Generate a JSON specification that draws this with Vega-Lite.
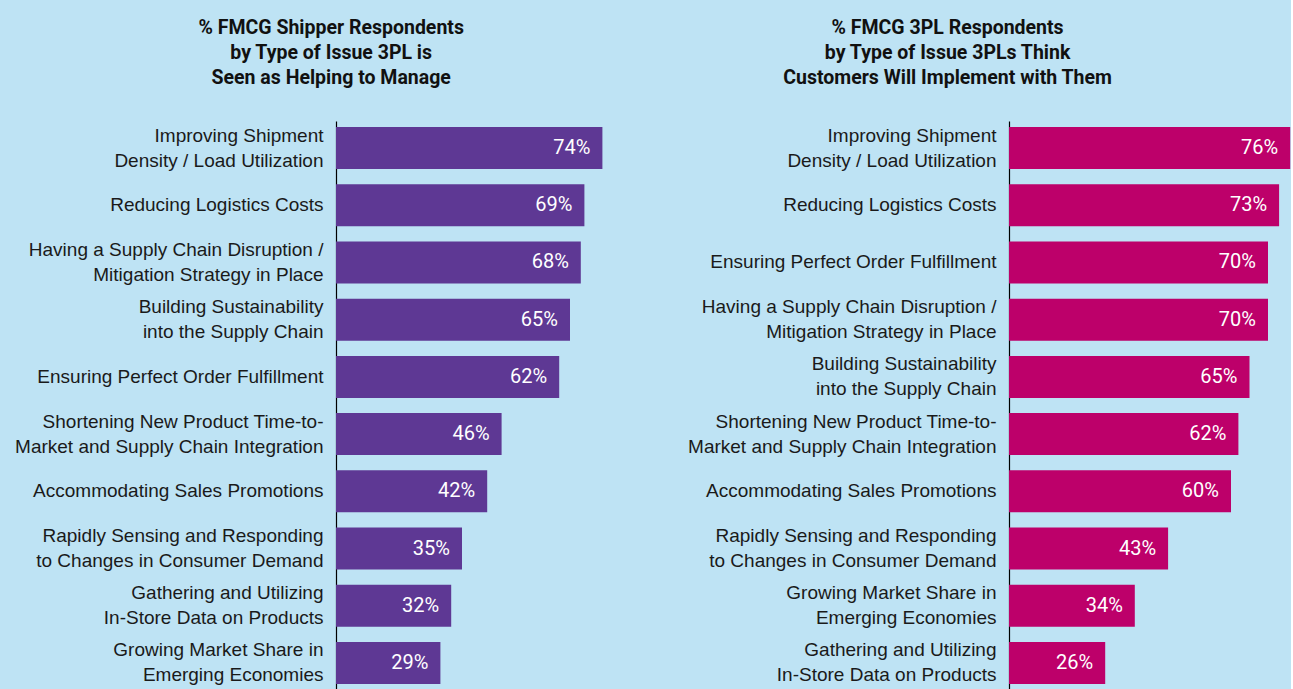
{
  "$schema": "https://vega.github.io/schema/vega-lite/v6.json",
  "background": "#bee3f4",
  "padding": {"left": 0, "top": 17, "right": 0, "bottom": 0},
  "spacing": 70,
  "datasets": {
    "shipper": [
      {"issue": "Improving Shipment|Density / Load Utilization", "pct": 0.74, "rank": 1},
      {"issue": "Reducing Logistics Costs", "pct": 0.69, "rank": 2},
      {"issue": "Having a Supply Chain Disruption /|Mitigation Strategy in Place", "pct": 0.68, "rank": 3},
      {"issue": "Building Sustainability|into the Supply Chain", "pct": 0.65, "rank": 4},
      {"issue": "Ensuring Perfect Order Fulfillment", "pct": 0.62, "rank": 5},
      {"issue": "Shortening New Product Time-to-|Market and Supply Chain Integration", "pct": 0.46, "rank": 6},
      {"issue": "Accommodating Sales Promotions", "pct": 0.42, "rank": 7},
      {"issue": "Rapidly Sensing and Responding|to Changes in Consumer Demand", "pct": 0.35, "rank": 8},
      {"issue": "Gathering and Utilizing|In-Store Data on Products", "pct": 0.32, "rank": 9},
      {"issue": "Growing Market Share in|Emerging Economies", "pct": 0.29, "rank": 10}
    ],
    "threepl": [
      {"issue": "Improving Shipment|Density / Load Utilization", "pct": 0.76, "rank": 1},
      {"issue": "Reducing Logistics Costs", "pct": 0.73, "rank": 2},
      {"issue": "Ensuring Perfect Order Fulfillment", "pct": 0.70, "rank": 3},
      {"issue": "Having a Supply Chain Disruption /|Mitigation Strategy in Place", "pct": 0.70, "rank": 4},
      {"issue": "Building Sustainability|into the Supply Chain", "pct": 0.65, "rank": 5},
      {"issue": "Shortening New Product Time-to-|Market and Supply Chain Integration", "pct": 0.62, "rank": 6},
      {"issue": "Accommodating Sales Promotions", "pct": 0.60, "rank": 7},
      {"issue": "Rapidly Sensing and Responding|to Changes in Consumer Demand", "pct": 0.43, "rank": 8},
      {"issue": "Growing Market Share in|Emerging Economies", "pct": 0.34, "rank": 9},
      {"issue": "Gathering and Utilizing|In-Store Data on Products", "pct": 0.26, "rank": 10}
    ]
  },
  "hconcat": [
    {
      "width": 266.4,
      "height": 569,
      "data": {"name": "shipper"},
      "title": {
        "text": ["% FMCG Shipper Respondents", "by Type of Issue 3PL is", "Seen as Helping to Manage"],
        "anchor": "middle",
        "frame": "group",
        "dx": -138
      },
      "encoding": {
        "y": {
          "field": "issue", "type": "nominal",
          "sort": {"field": "rank", "op": "min", "order": "ascending"},
          "scale": {"paddingInner": 0.266, "paddingOuter": 0.105},
          "axis": {
            "title": null,
            "labelExpr": "split(datum.label, '|')",
            "labelOffset": {"condition": {"test": "indexof(datum.label, '|') >= 0", "value": -12.5}, "value": 0},
            "minExtent": 336, "maxExtent": 336
          }
        },
        "x": {
          "field": "pct", "type": "quantitative",
          "scale": {"domain": [0, 0.74], "nice": false},
          "axis": null
        }
      },
      "layer": [
        {"mark": {"type": "bar", "color": "#5e3894"}},
        {
          "mark": {"type": "text", "align": "right", "baseline": "middle", "dx": -12, "color": "white", "font": "Roboto", "fontSize": 20},
          "encoding": {"text": {"field": "pct", "type": "quantitative", "format": ".0%"}}
        }
      ]
    },
    {
      "width": 281.2,
      "height": 569,
      "data": {"name": "threepl"},
      "title": {
        "text": ["% FMCG 3PL Respondents", "by Type of Issue 3PLs Think", "Customers Will Implement with Them"],
        "anchor": "middle",
        "frame": "group",
        "dx": -202
      },
      "encoding": {
        "y": {
          "field": "issue", "type": "nominal",
          "sort": {"field": "rank", "op": "min", "order": "ascending"},
          "scale": {"paddingInner": 0.266, "paddingOuter": 0.105},
          "axis": {
            "title": null,
            "labelExpr": "split(datum.label, '|')",
            "labelOffset": {"condition": {"test": "indexof(datum.label, '|') >= 0", "value": -12.5}, "value": 0},
            "minExtent": 336, "maxExtent": 336
          }
        },
        "x": {
          "field": "pct", "type": "quantitative",
          "scale": {"domain": [0, 0.76], "nice": false},
          "axis": null
        }
      },
      "layer": [
        {"mark": {"type": "bar", "color": "#bd006a"}},
        {
          "mark": {"type": "text", "align": "right", "baseline": "middle", "dx": -12, "color": "white", "font": "Roboto", "fontSize": 20},
          "encoding": {"text": {"field": "pct", "type": "quantitative", "format": ".0%"}}
        }
      ]
    }
  ],
  "config": {
    "view": {"stroke": null},
    "title": {
      "font": "Roboto",
      "fontSize": 19.5,
      "fontWeight": "bold",
      "color": "#111111",
      "lineHeight": 25,
      "offset": 33
    },
    "axis": {
      "ticks": false,
      "grid": false,
      "domainColor": "#000000",
      "domainWidth": 1.2,
      "labelPadding": 13,
      "labelFont": "Liberation Sans",
      "labelFontSize": 19,
      "labelColor": "#1a1a1a",
      "labelLineHeight": 25,
      "labelLimit": 0
    }
  }
}
